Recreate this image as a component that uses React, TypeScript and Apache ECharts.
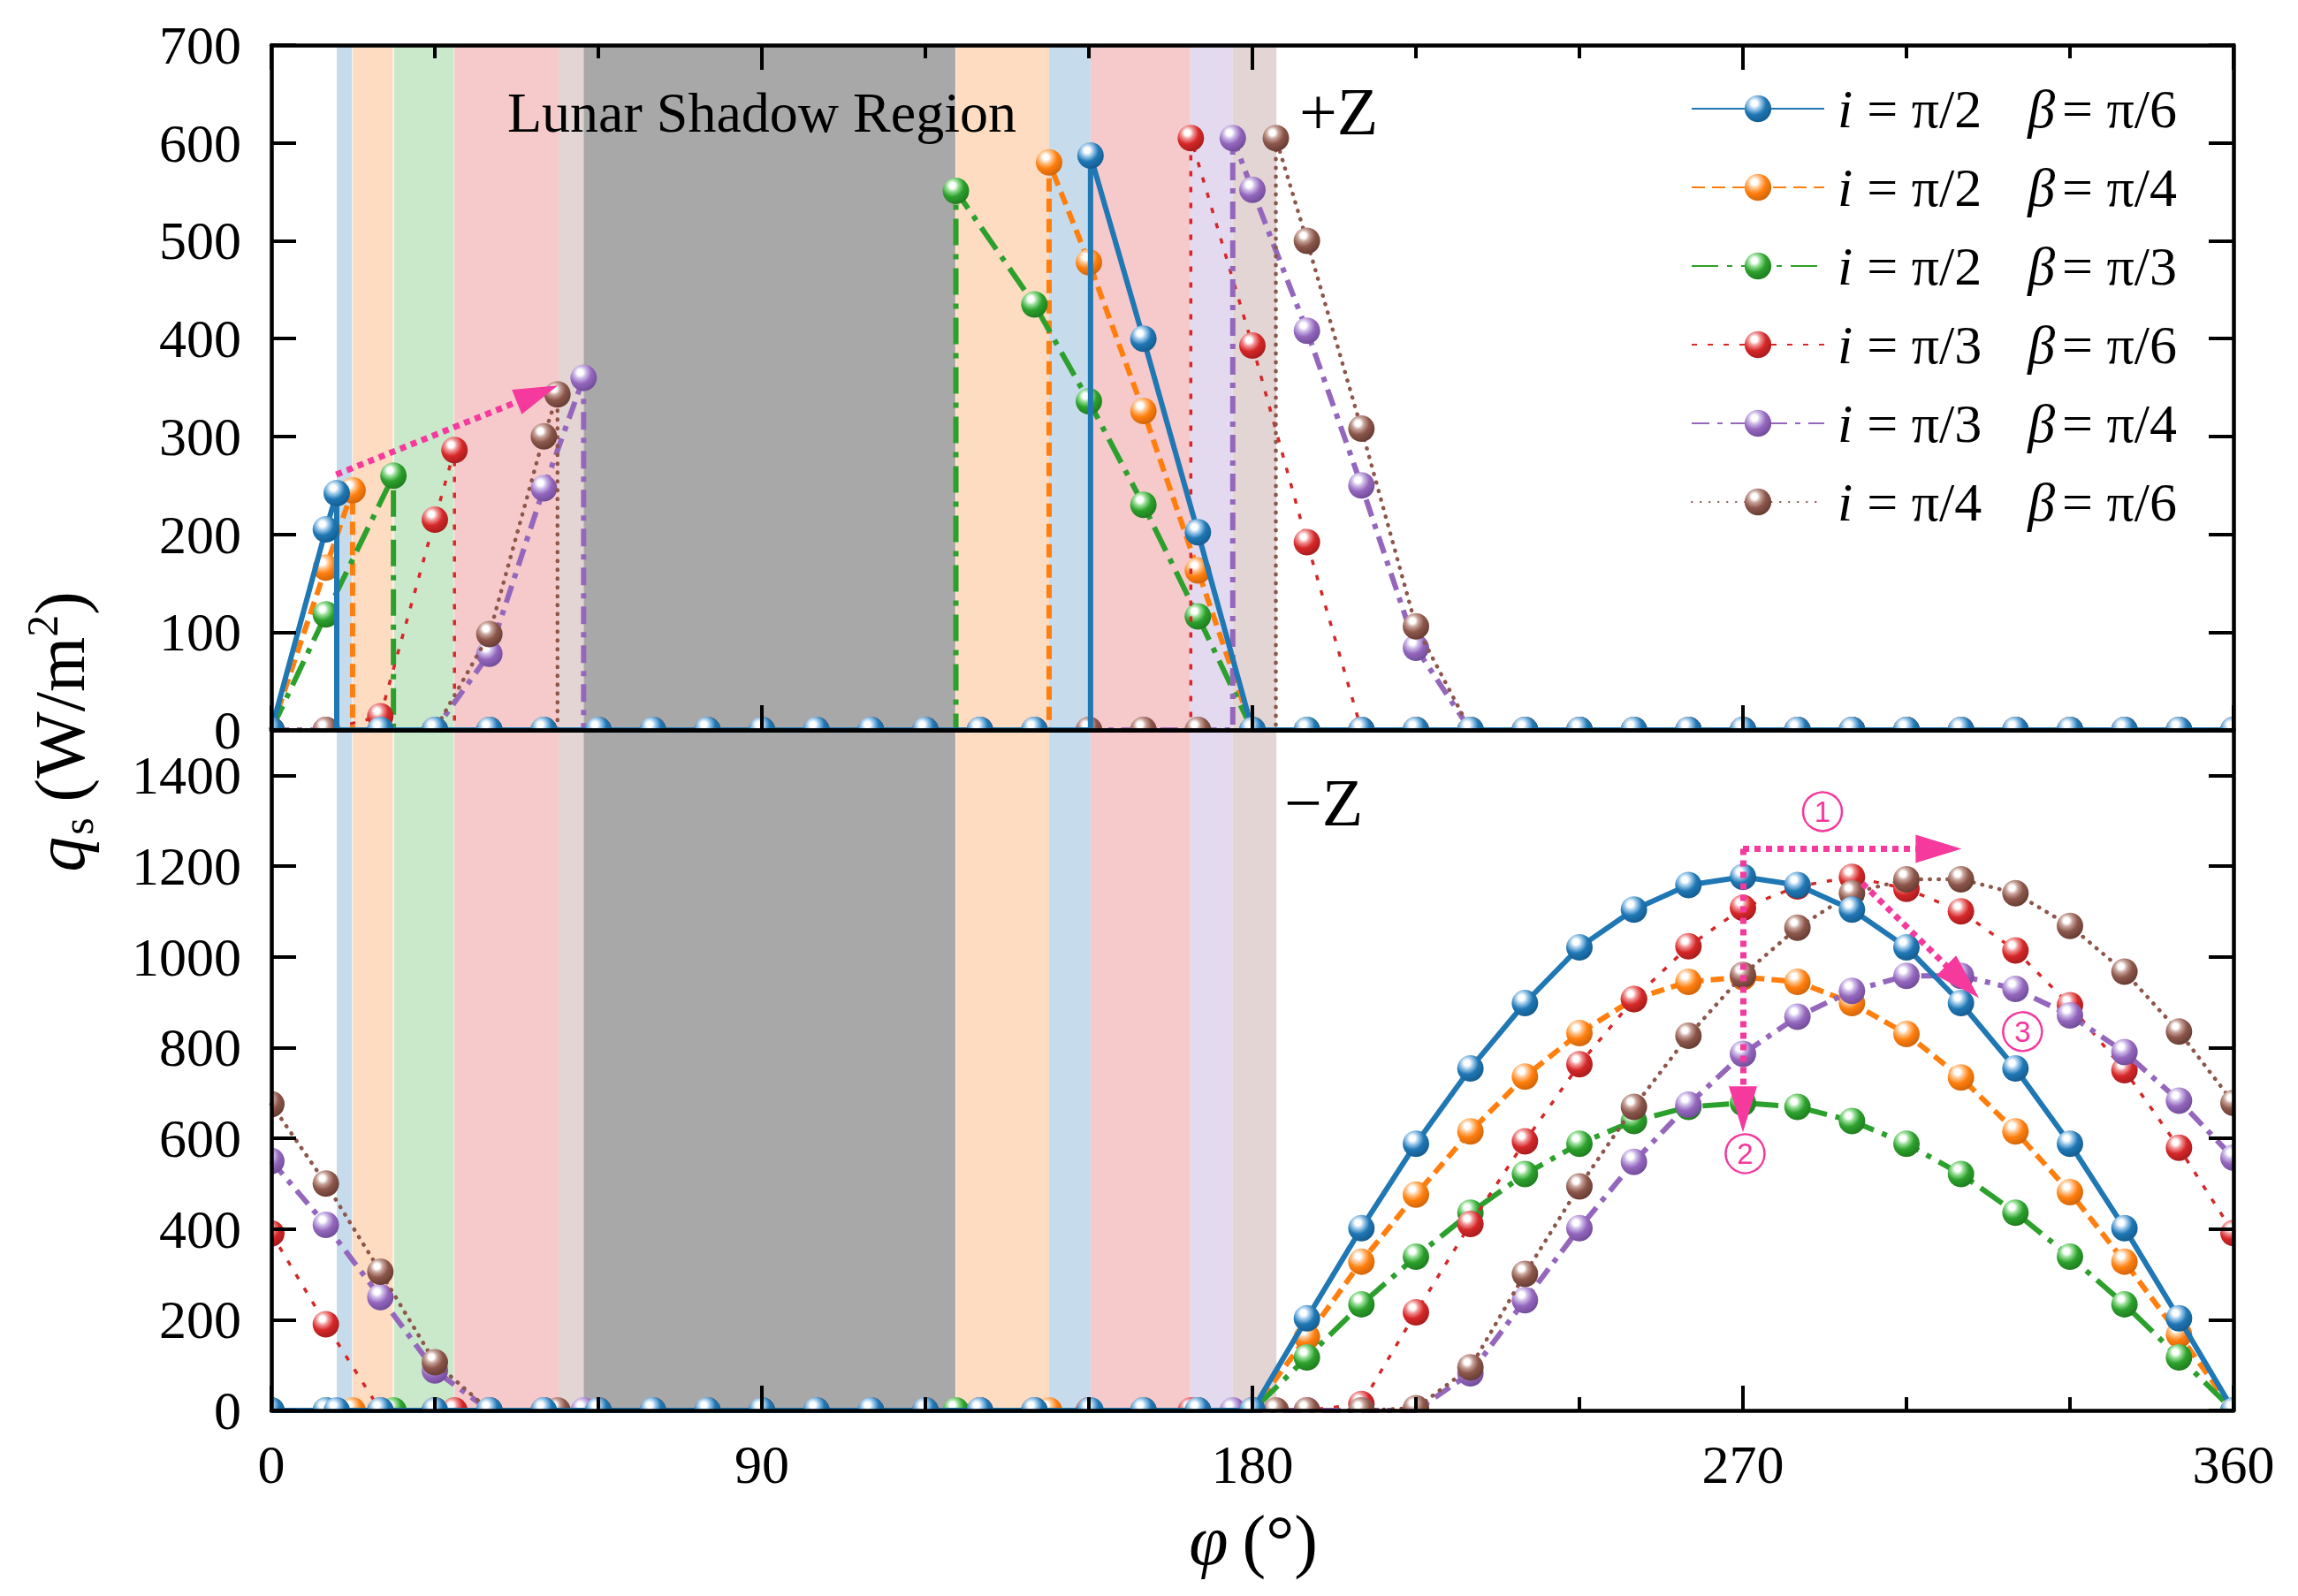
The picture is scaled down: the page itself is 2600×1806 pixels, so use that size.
import React, { useEffect, useRef } from 'react';
import * as echarts from 'echarts';

const FONT = 'Liberation Serif';
const PINK = '#f5399d';

// sampling angles (deg)
const PHI = [0, 10, 20, 30, 40, 50, 60, 70, 80, 90, 100, 110, 120, 130, 140, 150, 160, 170, 180,
  190, 200, 210, 220, 230, 240, 250, 260, 270, 280, 290, 300, 310, 320, 330, 340, 350, 360];

const N = null;
// +Z face (top panel) and -Z face (bottom panel), W/m^2
const BLUE_TOP = [0, 205, 0, 0, 0, 0, 0, 0, 0, 0, 0, 0, 0, 0, 0, N, 400, 202, 0, 0, 0, 0, 0, 0, 0, 0, 0, 0, 0, 0, 0, 0, 0, 0, 0, 0, 0];
const BLUE_BOT = [0, 0, 0, 0, 0, 0, 0, 0, 0, 0, 0, 0, 0, 0, 0, N, 0, 0, 0, 203, 402, 588, 754, 898, 1021, 1104, 1158, 1176, 1158, 1104, 1021, 898, 754, 588, 402, 203, 0];
const ORANGE_TOP = [0, 166, 0, 0, 0, 0, 0, 0, 0, 0, 0, 0, 0, 0, 0, 478, 326, 163, 0, 0, 0, 0, 0, 0, 0, 0, 0, 0, 0, 0, 0, 0, 0, 0, 0, 0, 0];
const ORANGE_BOT = [0, 0, 0, 0, 0, 0, 0, 0, 0, 0, 0, 0, 0, 0, 0, 0, 0, 0, 0, 162, 328, 476, 615, 736, 832, 907, 945, 955, 945, 898, 830, 734, 615, 481, 328, 167, 0];
const GREEN_TOP = [0, 118, N, 0, 0, 0, 0, 0, 0, 0, 0, 0, 0, N, 435, 336, 230, 116, 0, 0, 0, 0, 0, 0, 0, 0, 0, 0, 0, 0, 0, 0, 0, 0, 0, 0, 0];
const GREEN_BOT = [0, 0, N, 0, 0, 0, 0, 0, 0, 0, 0, 0, 0, N, 0, 0, 0, 0, 0, 117, 234, 339, 436, 521, 588, 638, 669, 678, 669, 638, 588, 521, 436, 339, 234, 117, 0];
const RED_TOP = [0, 0, 14, 215, 0, 0, 0, 0, 0, 0, 0, 0, 0, 0, 0, 0, 0, N, 393, 192, 0, 0, 0, 0, 0, 0, 0, 0, 0, 0, 0, 0, 0, 0, 0, 0, 0];
const RED_BOT = [390, 190, 0, 0, 0, 0, 0, 0, 0, 0, 0, 0, 0, 0, 0, 0, 0, N, 0, 0, 14, 216, 411, 593, 763, 907, 1023, 1108, 1155, 1176, 1150, 1100, 1014, 893, 750, 579, 391];
const PURPLE_TOP = [0, 0, 0, 0, 78, 247, 0, 0, 0, 0, 0, 0, 0, 0, 0, 0, 0, 0, 552, 408, 250, 84, 0, 0, 0, 0, 0, 0, 0, 0, 0, 0, 0, 0, 0, 0, 0];
const PURPLE_BOT = [550, 409, 250, 88, 0, 0, 0, 0, 0, 0, 0, 0, 0, 0, 0, 0, 0, 0, 0, 0, 0, 0, 82, 243, 402, 548, 674, 786, 868, 925, 958, 958, 929, 871, 790, 683, 557];
const BROWN_TOP = [0, 0, 0, 0, 98, 300, 0, 0, 0, 0, 0, 0, 0, 0, 0, 0, 0, 0, 0, 500, 308, 106, 0, 0, 0, 0, 0, 0, 0, 0, 0, 0, 0, 0, 0, 0, 0];
const BROWN_BOT = [675, 500, 306, 106, 0, 0, 0, 0, 0, 0, 0, 0, 0, 0, 0, 0, 0, 0, 0, 0, 0, 5, 95, 301, 494, 669, 826, 960, 1064, 1140, 1171, 1171, 1140, 1068, 967, 835, 678];

// shadow entry / exit angles and values (order: blue, orange, green, red, purple, brown)
const ENTRY_PHI = [12.0, 14.9, 22.4, 33.6, 57.3, 52.5];
const ENTRY_TOP = [242, 245, 260, 286, 360, 343];
const ENTRY_BOT = [0, 0, 0, 0, 0, 0];
const EXIT_PHI = [150.3, 142.7, 125.6, 168.7, 176.4, 184.3];
const EXIT_TOP = [587, 580, 551, 605, 605, 605];
const EXIT_BOT = [0, 0, 0, 0, 0, 0];

const LABELS = ['i = π/2   β = π/6', 'i = π/2   β = π/4', 'i = π/2   β = π/3', 'i = π/3   β = π/6', 'i = π/3   β = π/4', 'i = π/4   β = π/6'];
const COLORS = ['#1f77b4', '#ff7f0e', '#2ca02c', '#d62728', '#9467bd', '#8c564b'];
const LIGHTS = ['#9cc8ea', '#ffc58f', '#92dc92', '#f09293', '#cbb8e6', '#c6a198'];
const DARKS = ['#12578a', '#c75f08', '#1c761c', '#9e1a1b', '#6a4793', '#5f372e'];

// shadow bands [from, to, colour]
const BAND_FROM = [12.0, 14.9, 22.5, 33.6, 52.7, 57.3, 125.6, 142.7, 150.3, 168.6, 176.4];
const BAND_TO = [14.8, 22.3, 33.5, 52.7, 57.3, 125.5, 142.7, 150.3, 168.6, 176.4, 184.4];
const BAND_COLOR = ['#c6dcec', '#fddcc1', '#cae8ca', '#f6c9ca', '#e3d5d3', '#a8a8a8', '#fddcc1', '#c6dcec', '#f6c9ca', '#e3daef', '#e3d5d3'];

// annotation arrows (data coords)
const TOP_ARROW = [[11.9, 261], [48.8, 343.6]];
const BOT_ARROWS = [
  [[270, 1238], [305.9, 1238]],
  [[270, 1238], [270, 664]],
  [[291.9, 1162], [310.3, 945]],
];
const CIRCLE_LABELS = ['1', '2', '3'];
const CIRCLE_POS = [[284.6, 1320], [270.4, 566], [321.3, 835]];

type Num = number | null;

function sphere(i: number) {
  return new echarts.graphic.RadialGradient(0.37, 0.3, 0.78, [
    { offset: 0, color: '#ffffff' },
    { offset: 0.14, color: '#ffffff' },
    { offset: 0.3, color: LIGHTS[i] },
    { offset: 0.55, color: COLORS[i] },
    { offset: 1, color: DARKS[i] },
  ]);
}

function buildTop(vals: Num[], k: number) {
  const line: number[][] = [];
  const marks: number[][] = [];
  let en = false, ex = false;
  PHI.forEach((p, i) => {
    if (!en && ENTRY_PHI[k] < p) {
      line.push([ENTRY_PHI[k], ENTRY_TOP[k]]);
      marks.push([ENTRY_PHI[k], ENTRY_TOP[k]]);
      line.push([ENTRY_PHI[k], 0]);
      en = true;
    }
    if (!ex && EXIT_PHI[k] < p) {
      line.push([EXIT_PHI[k], 0]);
      line.push([EXIT_PHI[k], EXIT_TOP[k]]);
      marks.push([EXIT_PHI[k], EXIT_TOP[k]]);
      ex = true;
    }
    const v = vals[i];
    if (v !== null) {
      line.push([p, v]);
      marks.push([p, v]);
    }
  });
  return { line, marks };
}

function buildBot(vals: Num[], k: number) {
  const line: number[][] = [];
  let en = false, ex = false;
  PHI.forEach((p, i) => {
    if (!en && ENTRY_PHI[k] < p) {
      line.push([ENTRY_PHI[k], ENTRY_BOT[k]]);
      en = true;
    }
    if (!ex && EXIT_PHI[k] < p) {
      line.push([EXIT_PHI[k], EXIT_BOT[k]]);
      ex = true;
    }
    const v = vals[i];
    if (v !== null) line.push([p, v]);
  });
  return { line, marks: line };
}

const STYLES = [
  { width: 6, type: 'solid' as any, cap: 'butt', z: 14 },
  { width: 6, type: [15, 8], cap: 'butt', z: 4 },
  { width: 6, type: [30, 10, 6, 10], cap: 'butt', z: 6 },
  { width: 3.5, type: [6, 12], cap: 'butt', z: 8 },
  { width: 6, type: [20, 9, 6, 9], cap: 'butt', z: 10 },
  { width: 4.5, type: [0.5, 9.5], cap: 'round', z: 12 },
];

function buildOption() {
  const TOPS = [BLUE_TOP, ORANGE_TOP, GREEN_TOP, RED_TOP, PURPLE_TOP, BROWN_TOP];
  const BOTS = [BLUE_BOT, ORANGE_BOT, GREEN_BOT, RED_BOT, PURPLE_BOT, BROWN_BOT];
  const series: any[] = [];

  const bandData = BAND_FROM.map((f, i) => [
    { xAxis: f, itemStyle: { color: BAND_COLOR[i], opacity: 1 } },
    { xAxis: BAND_TO[i] },
  ]);
  [0, 2].forEach((ax) => {
    series.push({
      type: 'line', name: 'bands' + ax, xAxisIndex: ax, yAxisIndex: ax, data: [], silent: true, z: 1,
      markArea: { silent: true, z: 1, label: { show: false }, itemStyle: { opacity: 1 }, data: bandData },
    });
  });

  LABELS.forEach((name, k) => {
    const grad = sphere(k);
    const st = STYLES[k];
    const parts = [
      { d: buildTop(TOPS[k], k), ax: 0 },
      { d: buildBot(BOTS[k], k), ax: 2 },
    ];
    parts.forEach(({ d, ax }) => {
      series.push({
        type: 'line', name, xAxisIndex: ax, yAxisIndex: ax, data: d.line,
        symbol: 'circle', symbolSize: 30, showSymbol: false, silent: true,
        itemStyle: { color: grad, borderWidth: 0 },
        lineStyle: { color: COLORS[k], width: st.width, type: st.type, cap: st.cap },
        emphasis: { disabled: true }, z: st.z,
      });
      series.push({
        type: 'custom', name: name + '#m' + ax, xAxisIndex: ax, yAxisIndex: ax, data: d.marks,
        clip: true, silent: true, z: st.z + 1, encode: { x: 0, y: 1 },
        renderItem: (params: any, api: any) => {
          const p = api.coord([api.value(0), api.value(1)]);
          return { type: 'circle', shape: { cx: p[0], cy: p[1], r: 15 }, style: { fill: grad } };
        },
      });
    });
  });

  const arrowLine = { color: PINK, width: 7, type: [7, 6], opacity: 1 };
  const ARROW = 'path://M5,0L10,16L0,16Z';
  series.push({
    type: 'line', name: 'arrowTop', xAxisIndex: 0, yAxisIndex: 0, data: [], silent: true, z: 30,
    markLine: {
      silent: true, z: 30, symbol: ['none', ARROW], symbolSize: 50, label: { show: false },
      lineStyle: arrowLine,
      data: [[{ coord: TOP_ARROW[0] }, { coord: TOP_ARROW[1], symbolSize: [30, 50] }]],
    },
  });
  series.push({
    type: 'line', name: 'arrowBot', xAxisIndex: 2, yAxisIndex: 2, data: [], silent: true, z: 30,
    markLine: {
      silent: true, z: 30, symbol: ['none', ARROW], symbolSize: 50, label: { show: false },
      lineStyle: arrowLine,
      data: BOT_ARROWS.map((a) => [{ coord: a[0] }, { coord: a[1], symbolSize: [32, 52] }]),
    },
    markPoint: {
      silent: true, z: 30, symbol: 'circle', symbolSize: 44,
      itemStyle: { color: 'rgba(255,255,255,0)', borderColor: PINK, borderWidth: 2.5 },
      label: { show: true, formatter: '{b}', color: PINK, fontSize: 33, fontFamily: 'Liberation Sans', position: 'inside' },
      data: CIRCLE_LABELS.map((n, i) => ({ name: n, coord: CIRCLE_POS[i] })),
    },
  });

  const axisLine = { show: true, onZero: false, lineStyle: { color: '#000', width: 4.5 } };
  const tickMajor = { show: true, inside: true, length: 28, lineStyle: { color: '#000', width: 4 } };
  const tickMinor = { show: true, splitNumber: 3, length: 15, lineStyle: { color: '#000', width: 4 } };
  const fmt = (v: number) => String(v);
  const lab = { fontFamily: FONT, fontSize: 62, color: '#000', formatter: fmt, lineHeight: 46 };
  const xBase = { type: 'value', min: 0, max: 360, interval: 90, axisLine, splitLine: { show: false }, z: 40 };

  const legendFmt = (n: string) => {
    const m = n.match(/^i = (\S+)\s+β = (\S+)$/);
    if (!m) return n;
    return '{it|i}{t1|= ' + m[1] + '}{itb|β}{t2|= ' + m[2] + '}';
  };

  return {
    animation: false,
    backgroundColor: '#ffffff',
    grid: [
      { left: 307, top: 51, width: 2220, height: 775 },
      { left: 307, top: 826, width: 2220, height: 770 },
    ],
    xAxis: [
      { ...xBase, gridIndex: 0, position: 'bottom', axisTick: tickMajor, minorTick: { show: false }, axisLabel: { show: false } },
      { ...xBase, gridIndex: 0, position: 'top', axisTick: tickMajor, minorTick: tickMinor, axisLabel: { show: false } },
      { ...xBase, gridIndex: 1, position: 'bottom', axisTick: tickMajor, minorTick: tickMinor, axisLabel: { show: true, margin: 38, ...lab } },
      { ...xBase, gridIndex: 1, position: 'top', axisTick: { show: false }, minorTick: { show: false }, axisLabel: { show: false } },
    ],
    yAxis: [
      { type: 'value', gridIndex: 0, position: 'left', min: 0, max: 700, interval: 100, axisLine, axisTick: tickMajor, axisLabel: { margin: 34, ...lab }, splitLine: { show: false }, z: 40 },
      { type: 'value', gridIndex: 0, position: 'right', min: 0, max: 700, interval: 100, axisLine, axisTick: tickMajor, axisLabel: { show: false }, splitLine: { show: false }, z: 40 },
      { type: 'value', gridIndex: 1, position: 'left', min: 0, max: 1500, interval: 200, axisLine, axisTick: tickMajor, axisLabel: { margin: 34, showMaxLabel: false, ...lab }, splitLine: { show: false }, z: 40 },
      { type: 'value', gridIndex: 1, position: 'right', min: 0, max: 1500, interval: 200, axisLine, axisTick: tickMajor, axisLabel: { show: false }, splitLine: { show: false }, z: 40 },
    ],
    legend: {
      data: LABELS, orient: 'vertical', left: 1908, top: 87, itemWidth: 150, itemHeight: 38, itemGap: 27,
      selectedMode: false, formatter: legendFmt,
      textStyle: {
        fontFamily: FONT, fontSize: 62, color: '#000', lineHeight: 60, padding: [0, 0, 0, 10],
        rich: {
          it: { fontFamily: FONT, fontSize: 62, fontStyle: 'italic', lineHeight: 60, color: '#000' },
          itb: { fontFamily: FONT, fontSize: 62, fontStyle: 'italic', lineHeight: 60, color: '#000', padding: [0, 0, 0, 52] },
          t1: { fontFamily: FONT, fontSize: 62, lineHeight: 60, color: '#000', padding: [0, 0, 0, 16] },
          t2: { fontFamily: FONT, fontSize: 62, lineHeight: 60, color: '#000', padding: [0, 0, 0, 8] },
        },
      },
    },
    graphic: [
      { type: 'text', x: 574, y: 127, z: 100, style: { text: 'Lunar Shadow Region', fontFamily: FONT, fontSize: 64, fill: '#000', align: 'left', verticalAlign: 'middle' } },
      { type: 'text', x: 1470, y: 126, z: 100, style: { text: '+Z', fontFamily: FONT, fontSize: 76, fill: '#000', align: 'left', verticalAlign: 'middle' } },
      { type: 'text', x: 1453, y: 908, z: 100, style: { text: '\u2212Z', fontFamily: FONT, fontSize: 76, fill: '#000', align: 'left', verticalAlign: 'middle' } },
      {
        type: 'text', x: 68, y: 828, rotation: Math.PI / 2, z: 100,
        style: {
          text: '{q|q}{s|s}{b|(W/m}{sup|2}{b|)}', align: 'center', verticalAlign: 'middle', fill: '#000',
          rich: {
            q: { fontFamily: FONT, fontSize: 80, fontStyle: 'italic', lineHeight: 90, fill: '#000' },
            s: { fontFamily: FONT, fontSize: 50, lineHeight: 34, verticalAlign: 'bottom', padding: [0, 18, 0, 2], fill: '#000' },
            b: { fontFamily: FONT, fontSize: 80, lineHeight: 90, fill: '#000' },
            sup: { fontFamily: FONT, fontSize: 50, lineHeight: 34, verticalAlign: 'top', fill: '#000' },
          },
        },
      },
      {
        type: 'text', x: 1418, y: 1743, z: 100,
        style: {
          text: '{it|φ}{b|(°)}', align: 'center', verticalAlign: 'middle', fill: '#000',
          rich: {
            it: { fontFamily: FONT, fontSize: 80, fontStyle: 'italic', padding: [0, 16, 0, 0], fill: '#000' },
            b: { fontFamily: FONT, fontSize: 80, fill: '#000' },
          },
        },
      },
    ],
    series,
  };
}

export default function App() {
  const ref = useRef<HTMLDivElement>(null);
  useEffect(() => {
    document.body.style.margin = '0';
    const chart = echarts.init(ref.current!, null, { renderer: 'svg' });
    chart.setOption(buildOption() as any);
    return () => chart.dispose();
  }, []);
  return <div ref={ref} style={{ width: 2600, height: 1806, background: '#fff' }} />;
}
